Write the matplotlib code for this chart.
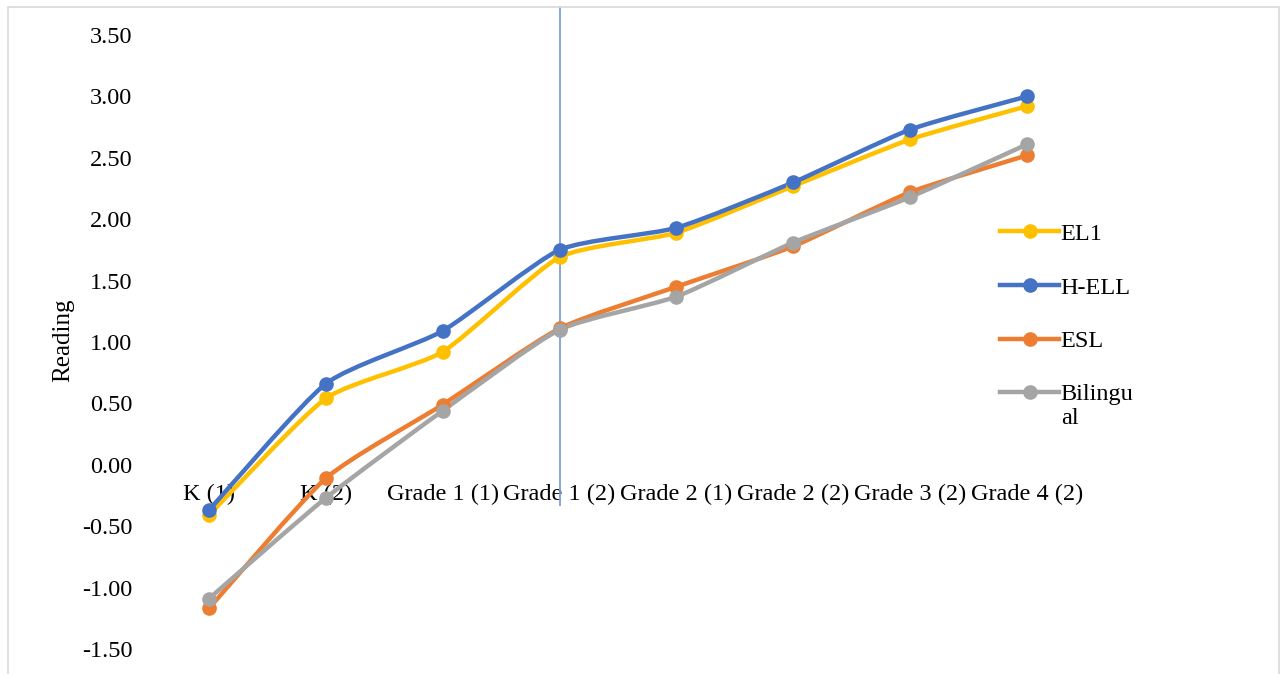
import numpy as np
import matplotlib.pyplot as plt
from matplotlib.path import Path
from matplotlib.patches import PathPatch, Rectangle

plt.rcParams['font.family'] = ['Liberation Serif', 'DejaVu Serif']

categories = ['K (1)', 'K (2)', 'Grade 1 (1)', 'Grade 1 (2)', 'Grade 2 (1)',
              'Grade 2 (2)', 'Grade 3 (2)', 'Grade 4 (2)']
el1 = [-0.41, 0.54, 0.92, 1.69, 1.89, 2.27, 2.65, 2.92]
h_ell = [-0.37, 0.66, 1.09, 1.75, 1.93, 2.30, 2.73, 3.00]
esl = [-1.17, -0.11, 0.49, 1.11, 1.45, 1.78, 2.22, 2.52]
bilingual = [-1.09, -0.27, 0.44, 1.10, 1.37, 1.81, 2.18, 2.61]

series = [
    ('EL1', el1, '#FFC000'),
    ('H-ELL', h_ell, '#4472C4'),
    ('ESL', esl, '#ED7D31'),
    ('Bilingu\nal', bilingual, '#A5A5A5'),
]

FS = 17.5


def smooth_path(xs, ys, k=10):
    # mildly smoothed line like excel: cubic bezier segments through every point
    n = len(xs)
    verts = [(xs[0], ys[0])]
    codes = [Path.MOVETO]
    for i in range(n - 1):
        x0, y0 = xs[max(i - 1, 0)], ys[max(i - 1, 0)]
        x1, y1 = xs[i], ys[i]
        x2, y2 = xs[i + 1], ys[i + 1]
        x3, y3 = xs[min(i + 2, n - 1)], ys[min(i + 2, n - 1)]
        c1 = (x1 + (x2 - x0) / k, y1 + (y2 - y0) / k)
        c2 = (x2 - (x3 - x1) / k, y2 - (y3 - y1) / k)
        verts += [c1, c2, (x2, y2)]
        codes += [Path.CURVE4] * 3
    return Path(verts, codes)


fig = plt.figure(figsize=(12.83, 6.74), dpi=100)
ax = fig.add_axes([0.1173, 0.0371, 0.7288, 0.911])

x = list(range(len(categories)))
for name, vals, color in series:
    ax.add_patch(PathPatch(smooth_path(x, vals), facecolor='none', edgecolor=color,
                           lw=3.2, capstyle='round', joinstyle='round', zorder=3))
    ax.plot(x, vals, 'o', color=color, markersize=9.5, zorder=4)
    ax.plot([], [], '-o', color=color, lw=3.2, markersize=9.5, label=name)

ax.set_xlim(-0.5, len(categories) - 0.5)
ax.set_ylim(-1.5, 3.5)
ax.set_yticks([-1.5 + 0.5 * i for i in range(11)])
ax.set_yticklabels([f'{-1.5 + 0.5 * i:.2f}' for i in range(11)])
ax.set_xticks(x)
ax.set_xticklabels(categories)
ax.spines['bottom'].set_position(('data', 0))
for s in ax.spines.values():
    s.set_visible(False)
ax.tick_params(axis='both', length=0, labelsize=FS)
ax.tick_params(axis='y', pad=13)
ax.tick_params(axis='x', pad=14)

ax.set_ylabel('Reading', fontsize=18)
ax.yaxis.set_label_coords(-0.082, 0.503)

# vertical marker line at Grade 1 (2)
ax.plot([3, 3], [-0.33, 3.73], color='#7F9FD8', lw=1.3, clip_on=False, zorder=2)

leg = ax.legend(loc='upper left', bbox_to_anchor=(0.898, 0.71), frameon=False,
                fontsize=FS, handlelength=2.45, handletextpad=0.05,
                labelspacing=1.305, borderaxespad=0)
# wrapped label: keep its handle level with the first line, like excel does
h = leg.legend_handles[3]
h.set_ydata(np.asarray(h.get_ydata(), dtype=float) + 10)

fig.add_artist(Rectangle((0.0065, -0.01), 0.99, 0.9995, transform=fig.transFigure,
                         facecolor='none', edgecolor='#D9D9D9', lw=1.2))

fig.savefig('out.png', dpi=100)
